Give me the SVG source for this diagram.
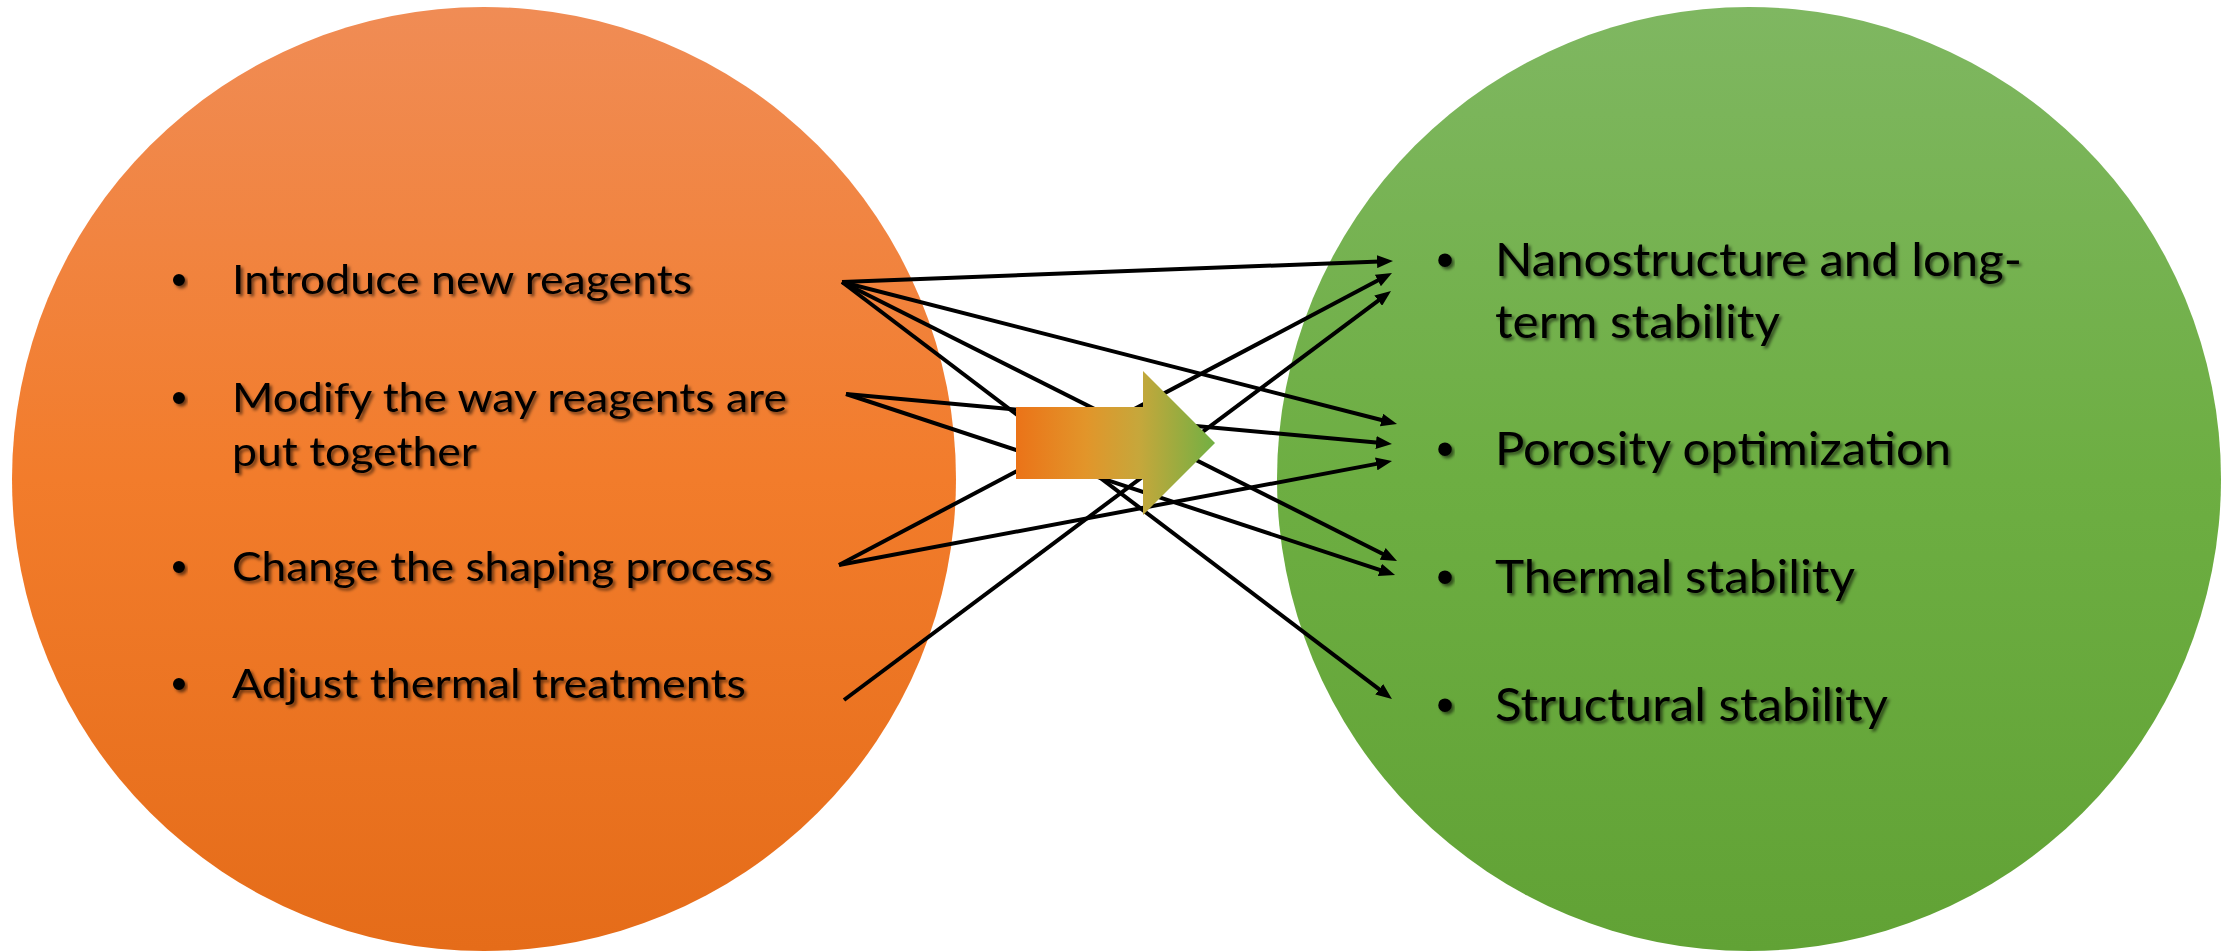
<svg xmlns="http://www.w3.org/2000/svg" width="2233" height="952" viewBox="0 0 2233 952">
  <defs>
    <linearGradient id="orangeFill" x1="0" y1="0" x2="0" y2="1">
      <stop offset="0" stop-color="#F08C55"/>
      <stop offset="0.5" stop-color="#F27C2B"/>
      <stop offset="1" stop-color="#E56C19"/>
    </linearGradient>
    <linearGradient id="greenFill" x1="0" y1="0" x2="0" y2="1">
      <stop offset="0" stop-color="#7FB761"/>
      <stop offset="0.5" stop-color="#6DAE42"/>
      <stop offset="1" stop-color="#61A235"/>
    </linearGradient>
    <linearGradient id="blockFill" gradientUnits="userSpaceOnUse" x1="1016" y1="0" x2="1215" y2="0">
      <stop offset="0" stop-color="#EB7318"/>
      <stop offset="0.35" stop-color="#E2952A"/>
      <stop offset="0.62" stop-color="#C6A73B"/>
      <stop offset="1" stop-color="#72B043"/>
    </linearGradient>
    <filter id="textShadow" x="-5%" y="-30%" width="110%" height="160%">
      <feDropShadow dx="2.5" dy="2.5" stdDeviation="1.4" flood-color="#000" flood-opacity="0.55"/>
    </filter>
    <marker id="head" markerUnits="userSpaceOnUse" markerWidth="17" markerHeight="13" refX="3" refY="6.5" orient="auto">
      <path d="M0,0 L16,6.5 L0,13 Z" fill="#000"/>
    </marker>
    <style>
      .item { font-family: Lato, "Liberation Sans", sans-serif; fill: #000; filter: url(#textShadow); }
      .left { font-size: 41px; }
      .right { font-size: 47px; }
      .bullet { font-family: "Liberation Sans", sans-serif; text-anchor: middle; }
      .left.bullet { font-size: 44px; }
      .right.bullet { font-size: 50px; }
      .link { stroke: #000; stroke-width: 4; fill: none; marker-end: url(#head); }
    </style>
  </defs>

  <!-- source circle: actions -->
  <g id="actions">
    <circle cx="484" cy="479" r="472" fill="url(#orangeFill)"/>
    <text class="item left bullet" x="179" y="295">•</text>
    <text class="item left" x="232" y="294" textLength="460" lengthAdjust="spacingAndGlyphs">Introduce new reagents</text>
    <text class="item left bullet" x="179" y="413">•</text>
    <text class="item left" x="232" y="412" textLength="555" lengthAdjust="spacingAndGlyphs">Modify the way reagents are</text>
    <text class="item left" x="232" y="466" textLength="245" lengthAdjust="spacingAndGlyphs">put together</text>
    <text class="item left bullet" x="179" y="582">•</text>
    <text class="item left" x="232" y="581" textLength="541" lengthAdjust="spacingAndGlyphs">Change the shaping process</text>
    <text class="item left bullet" x="179" y="699">•</text>
    <text class="item left" x="232" y="698" textLength="514" lengthAdjust="spacingAndGlyphs">Adjust thermal treatments</text>
  </g>

  <!-- target circle: outcomes -->
  <g id="outcomes">
    <circle cx="1749" cy="479" r="472" fill="url(#greenFill)"/>
    <text class="item right bullet" x="1445" y="277">•</text>
    <text class="item right" x="1495" y="276" textLength="527" lengthAdjust="spacingAndGlyphs">Nanostructure and long-</text>
    <text class="item right" x="1495" y="338" textLength="285" lengthAdjust="spacingAndGlyphs">term stability</text>
    <text class="item right bullet" x="1445" y="466">•</text>
    <text class="item right" x="1495" y="465" textLength="456" lengthAdjust="spacingAndGlyphs">Porosity optimization</text>
    <text class="item right bullet" x="1445" y="594">•</text>
    <text class="item right" x="1495" y="593" textLength="360" lengthAdjust="spacingAndGlyphs">Thermal stability</text>
    <text class="item right bullet" x="1445" y="722">•</text>
    <text class="item right" x="1495" y="721" textLength="393" lengthAdjust="spacingAndGlyphs">Structural stability</text>
  </g>

  <!-- links from each action to the outcomes it affects -->
  <g id="connectors">
    <line class="link" x1="842" y1="282" x2="1380.0" y2="261.5"/>
    <line class="link" x1="842" y1="282" x2="1384.4" y2="420.8"/>
    <line class="link" x1="842" y1="282" x2="1385.4" y2="555.2"/>
    <line class="link" x1="842" y1="282" x2="1381.6" y2="691.1"/>
    <line class="link" x1="846" y1="394" x2="1379.0" y2="442.8"/>
    <line class="link" x1="846" y1="394" x2="1382.7" y2="570.9"/>
    <line class="link" x1="839" y1="565" x2="1380.5" y2="279.1"/>
    <line class="link" x1="839" y1="565" x2="1379.2" y2="463.4"/>
    <line class="link" x1="844" y1="700" x2="1380.6" y2="298.8"/>
  </g>

  <!-- central block arrow -->
  <g id="flow-arrow">
    <path d="M1016,407 L1143,407 L1143,371 L1215,443 L1143,515 L1143,479 L1016,479 Z" fill="url(#blockFill)"/>
  </g>
</svg>
